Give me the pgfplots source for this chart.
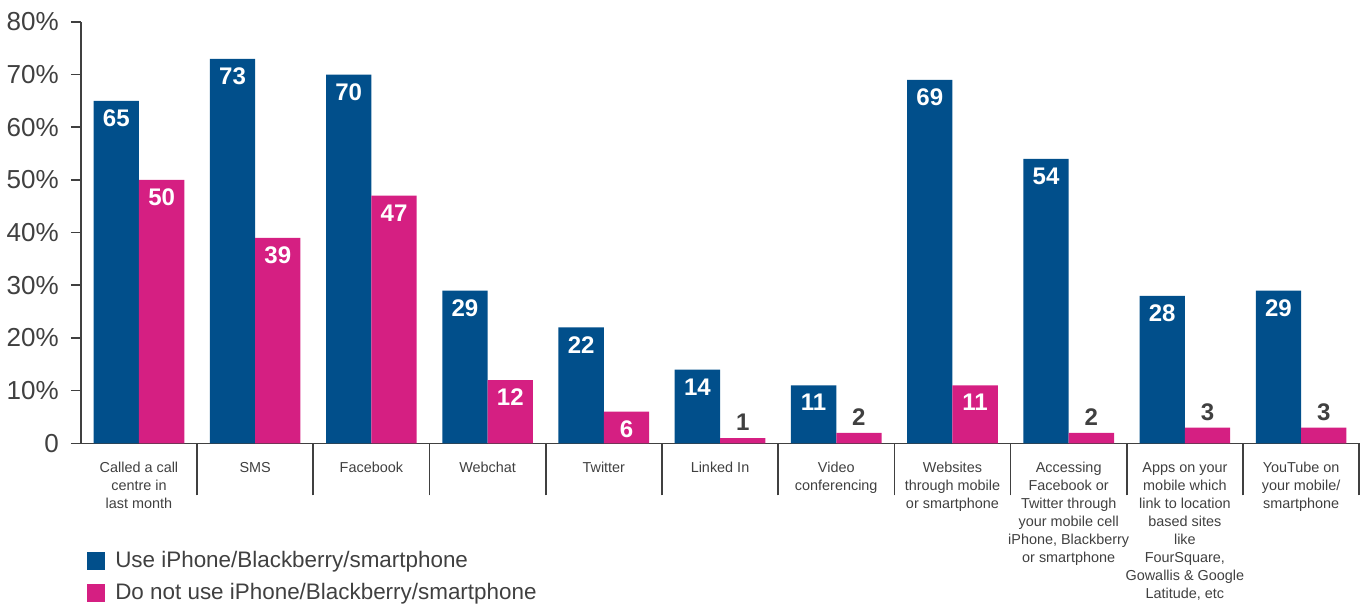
\documentclass[border=0pt]{standalone}
\usepackage{pgfplots}
\pgfplotsset{compat=1.18}
\usepackage{fontspec}
\setmainfont{Liberation Sans}
\definecolor{cblue}{RGB}{1,79,139}
\definecolor{cpink}{RGB}{213,31,130}
\definecolor{cgray}{RGB}{64,64,64}
\begin{document}
\begin{tikzpicture}
\begin{axis}[
  scale only axis, width=638.5pt, height=210.5pt,
  xmin=-0.5, xmax=10.5, ymin=0, ymax=80,
  ybar=0pt, bar width=0.39,
  /pgf/number format/assume math mode=true,
  axis x line*=bottom, axis y line*=left,
  axis line style={cgray, line width=0.8pt, -},
  tick align=outside, major tick length=5pt, minor tick length=26pt,
  every tick/.style={cgray, line width=0.8pt},
  ytick={0,10,...,80},
  yticklabels={0,10\%,20\%,30\%,40\%,50\%,60\%,70\%,80\%},
  yticklabel style={font=\fontsize{13}{15}\selectfont, text=cgray, xshift=-2.5pt},
  xtick={0,...,10},
  major x tick style={draw=none},
  minor xtick={0.5,1.5,...,10.5},
  xticklabels={
    {Called a call\\centre in\\last month},
    SMS, Facebook, Webchat, Twitter, Linked In,
    {Video\\conferencing},
    {Websites\\through mobile\\or smartphone},
    {Accessing\\Facebook or\\Twitter through\\your mobile cell\\iPhone, Blackberry\\or smartphone},
    {Apps on your\\mobile which\\link to location\\based sites\\like\\FourSquare,\\Gowallis \& Google\\Latitude, etc},
    {YouTube on\\your mobile/\\smartphone}},
  xticklabel style={font=\fontsize{7.2}{9}\selectfont, align=center, anchor=north, text=cgray, yshift=-1pt},
  legend style={at={(0,-0.237)}, anchor=north west, draw=none, fill=none,
    font=\fontsize{11.2}{13}\selectfont, text=cgray, row sep=2pt,
    nodes={inner xsep=5pt}},
  legend cell align=left,
  legend image code/.code={\fill[#1, draw=none] (1pt,-4.5pt) rectangle (10pt,4.5pt);},
]
\addplot[bar shift=-0.195, fill=cblue, draw=none,
  nodes near coords,
  every node near coord/.append style={anchor=north, yshift=-1pt, text=white, font=\bfseries\fontsize{12}{13}\selectfont}]
  coordinates {(0,65) (1,73) (2,70) (3,29) (4,22) (5,14) (6,11) (7,69) (8,54) (9,28) (10,29)};
\addlegendentry{Use iPhone/Blackberry/smartphone}
\addplot[bar shift=0.195, fill=cpink, draw=none,
  nodes near coords,
  every node near coord/.append style={anchor=north, yshift=-1pt, text=white, font=\bfseries\fontsize{12}{13}\selectfont}]
  coordinates {(0,50) (1,39) (2,47) (3,12) (4,6) (7,11)};
\addlegendentry{Do not use iPhone/Blackberry/smartphone}
\addplot[bar shift=0.195, fill=cpink, draw=none, forget plot,
  nodes near coords,
  every node near coord/.append style={anchor=south, text=cgray, font=\bfseries\fontsize{12}{13}\selectfont}]
  coordinates {(5,1) (6,2) (8,2) (9,3) (10,3)};
\end{axis}
\path (current bounding box.north) ++(0,3pt);
\end{tikzpicture}
\end{document}
